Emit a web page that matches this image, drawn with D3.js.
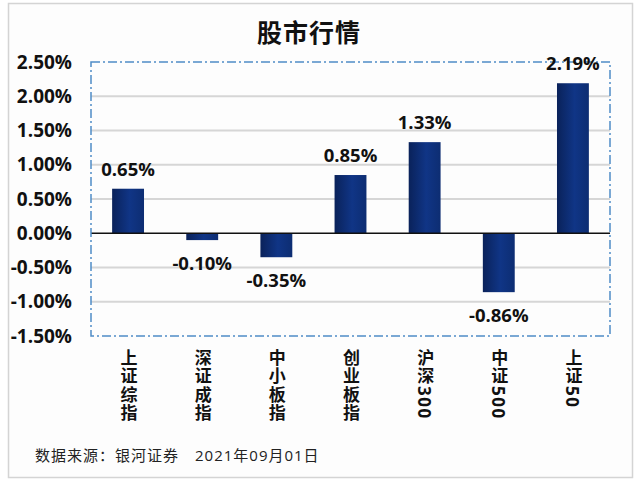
<!DOCTYPE html>
<html lang="zh">
<head>
<meta charset="UTF-8">
<script src="https://cdn.jsdelivr.net/npm/d3@7"></script>
<title>股市行情</title>
<style>
    body { margin: 0; background: #ffffff; }
    svg text { font-family: "Open Sans", "Noto Sans CJK SC", sans-serif; }
</style>
</head>
<body>
<div id="chart"></div>
<script>
    const categories = ["上证综指", "深证成指", "中小板指", "创业板指", "沪深300", "中证500", "上证50"];
    const changes = [0.65, -0.10, -0.35, 0.85, 1.33, -0.86, 2.19];
    const yTicks = [2.5, 2.0, 1.5, 1.0, 0.5, 0.0, -0.5, -1.0, -1.5];
    const title = "股市行情";
    const source = "数据来源：银河证券　2021年09月01日";

    const width = 640, height = 484;
    const plot = {left: 91, right: 610, top: 62, bottom: 336};

    const svg = d3.select("#chart").append("svg")
        .attr("width", width)
        .attr("height", height);

    // gradient for the bars
    const grad = svg.append("defs").append("linearGradient")
        .attr("id", "barGrad")
        .attr("x1", "0%").attr("x2", "100%");
    grad.append("stop").attr("offset", "0%").attr("stop-color", "#0a225a");
    grad.append("stop").attr("offset", "55%").attr("stop-color", "#103586");
    grad.append("stop").attr("offset", "100%").attr("stop-color", "#0d2d72");

    // outer frame
    svg.append("rect")
        .attr("x", 8.5).attr("y", 3.5)
        .attr("width", 624).attr("height", 474)
        .attr("fill", "#fdfdfd")
        .attr("stroke", "#d4d4d4")
        .attr("stroke-width", 1.5);

    const x = d3.scaleBand()
        .domain(categories)
        .range([plot.left, plot.right])
        .paddingInner(0.57)
        .paddingOuter(0.285);

    const y = d3.scaleLinear()
        .domain([-1.5, 2.5])
        .range([plot.bottom, plot.top]);

    // gridlines
    svg.append("g")
        .selectAll("line")
        .data(yTicks.filter(d => d !== 0 && d !== 2.5 && d !== -1.5))
        .enter()
        .append("line")
        .attr("x1", plot.left).attr("x2", plot.right)
        .attr("y1", d => y(d)).attr("y2", d => y(d))
        .attr("stroke", "#d6d6d6")
        .attr("stroke-width", 2);

    // y tick labels
    const yAxis = d3.axisLeft(y)
        .tickValues(yTicks)
        .tickFormat(d => d.toFixed(2) + "%")
        .tickSize(0)
        .tickPadding(0);
    const yg = svg.append("g")
        .attr("transform", `translate(72,0)`)
        .call(yAxis);
    yg.select(".domain").remove();
    yg.selectAll("text")
        .attr("font-family", "Open Sans, sans-serif")
        .attr("font-size", 19)
        .attr("font-weight", "bold")
        .attr("fill", "#111");

    // bars
    svg.append("g")
        .selectAll("rect")
        .data(categories)
        .enter()
        .append("rect")
        .attr("x", d => x(d))
        .attr("width", x.bandwidth())
        .attr("y", (d, i) => y(Math.max(0, changes[i])))
        .attr("height", (d, i) => Math.abs(y(changes[i]) - y(0)))
        .attr("fill", "url(#barGrad)");

    // zero line
    svg.append("line")
        .attr("x1", plot.left).attr("x2", plot.right)
        .attr("y1", y(0)).attr("y2", y(0))
        .attr("stroke", "#111")
        .attr("stroke-width", 1.5);

    // dash-dot frame of the plot area
    svg.append("rect")
        .attr("x", plot.left).attr("y", plot.top)
        .attr("width", plot.right - plot.left)
        .attr("height", plot.bottom - plot.top)
        .attr("fill", "none")
        .attr("stroke", "#4f8cc6")
        .attr("stroke-width", 1.5)
        .attr("stroke-dasharray", "9,3,2,3");

    // value labels
    svg.append("g")
        .selectAll("text")
        .data(categories)
        .enter()
        .append("text")
        .attr("x", d => x(d) + x.bandwidth() / 2)
        .attr("y", (d, i) => changes[i] >= 0 ? y(changes[i]) - 13 : y(changes[i]) + 30)
        .attr("text-anchor", "middle")
        .attr("font-size", 18.5)
        .attr("font-weight", "bold")
        .attr("fill", "#111")
        .text((d, i) => changes[i].toFixed(2) + "%");

    // category labels, vertical
    svg.append("g")
        .selectAll("text")
        .data(categories)
        .enter()
        .append("text")
        .attr("x", d => x(d) + x.bandwidth() / 2)
        .attr("y", 349)
        .style("writing-mode", "vertical-rl")
        .style("text-orientation", "mixed")
        .attr("font-family", "Noto Sans CJK SC, sans-serif")
        .attr("font-size", 17)
        .attr("font-weight", "bold")
        .attr("letter-spacing", 1.5)
        .attr("fill", "#111")
        .text(d => d);

    // title
    svg.append("text")
        .attr("x", 309).attr("y", 42)
        .attr("text-anchor", "middle")
        .attr("font-family", "Noto Sans CJK SC, sans-serif")
        .attr("font-size", 25)
        .attr("font-weight", "bold")
        .attr("letter-spacing", 1)
        .attr("fill", "#111")
        .text(title);

    // source note
    svg.append("text")
        .attr("x", 35).attr("y", 461)
        .attr("font-family", "Noto Sans CJK SC, sans-serif")
        .attr("font-size", 15)
        .attr("letter-spacing", 1)
        .attr("fill", "#222")
        .text(source);
</script>
</body>
</html>
